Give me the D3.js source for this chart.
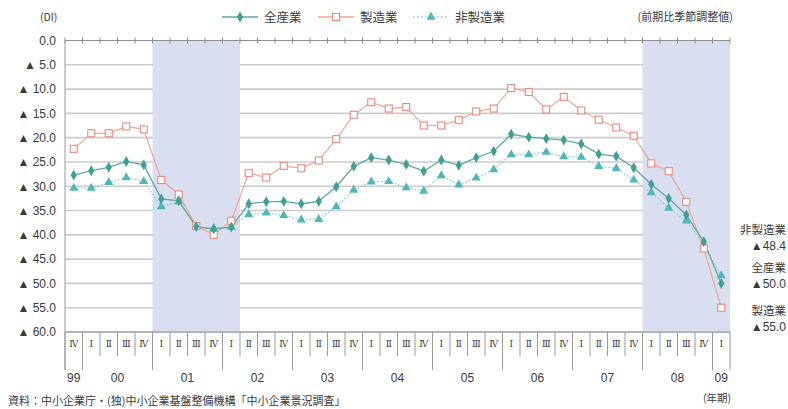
<!DOCTYPE html>
<html>
<head>
<meta charset="utf-8">
<script src="https://cdn.jsdelivr.net/npm/d3@7"></script>
<style>
  html, body { margin: 0; padding: 0; background: #fff; }
  svg { display: block; font-family: "Noto Sans CJK JP", "Liberation Sans", sans-serif; }
</style>
</head>
<body>
<svg id="chart" width="788" height="409"></svg>
<script>
// Quarter slots: 1999 IV .. 2009 I
const quarters = ["Ⅳ",
  "Ⅰ","Ⅱ","Ⅲ","Ⅳ", "Ⅰ","Ⅱ","Ⅲ","Ⅳ", "Ⅰ","Ⅱ","Ⅲ","Ⅳ",
  "Ⅰ","Ⅱ","Ⅲ","Ⅳ", "Ⅰ","Ⅱ","Ⅲ","Ⅳ", "Ⅰ","Ⅱ","Ⅲ","Ⅳ",
  "Ⅰ","Ⅱ","Ⅲ","Ⅳ", "Ⅰ","Ⅱ","Ⅲ","Ⅳ", "Ⅰ","Ⅱ","Ⅲ","Ⅳ",
  "Ⅰ"];
const years = ["99","00","01","02","03","04","05","06","07","08","09"];
const yearStart = [0, 1, 5, 9, 13, 17, 21, 25, 29, 33, 37];
const yearCount = [1, 4, 4, 4, 4, 4, 4, 4, 4, 4, 1];

// Recession periods as [first slot, slot after last]
const recessions = [[5, 10], [33, 38]];

// DI values (negative = ▲)
const allIndustry = [-27.7,-26.8,-26.1,-24.9,-25.6,-32.6,-33.0,-38.3,-38.8,-38.4,
  -33.6,-33.2,-33.1,-33.6,-33.1,-30.1,-25.9,-24.1,-24.6,-25.5,
  -26.9,-24.6,-25.7,-24.1,-22.8,-19.3,-19.9,-20.2,-20.5,-21.3,
  -23.4,-23.8,-26.2,-29.6,-32.5,-35.9,-41.4,-50.0];
const manufacturing = [-22.3,-19.1,-19.1,-17.7,-18.3,-28.7,-31.7,-38.2,-40.0,-37.1,
  -27.3,-28.2,-25.8,-26.3,-24.7,-20.3,-15.3,-12.7,-14.0,-13.7,
  -17.5,-17.5,-16.4,-14.6,-14.0,-9.8,-10.6,-14.2,-11.6,-14.4,
  -16.3,-17.9,-19.6,-25.3,-26.9,-33.2,-42.8,-55.0];
const nonManufacturing = [-30.4,-30.4,-29.2,-28.2,-29.0,-34.2,-33.2,-38.3,-38.7,-38.4,
  -35.8,-35.5,-36.0,-36.9,-36.8,-34.2,-30.8,-29.1,-29.0,-30.3,
  -31.0,-27.8,-29.7,-28.3,-26.6,-23.5,-23.5,-23.0,-23.9,-24.0,
  -25.9,-26.3,-28.7,-31.3,-34.5,-37.1,-42.0,-48.4];

const yTicks = [0,-5,-10,-15,-20,-25,-30,-35,-40,-45,-50,-55,-60];

const seriesNames = ["全産業", "製造業", "非製造業"];
const endLabels = [
  {name: "非製造業", value: nonManufacturing[nonManufacturing.length - 1]},
  {name: "全産業", value: allIndustry[allIndustry.length - 1]},
  {name: "製造業", value: manufacturing[manufacturing.length - 1]}
];

const fmt = v => v === 0 ? "0.0" : "▲ " + (-v).toFixed(1);
const fmtEnd = v => "▲" + (-v).toFixed(1);

const svg = d3.select("#chart");
const plotL = 65, plotR = 730, plotT = 40.5, plotB = 332;

const x = d3.scaleBand().domain(d3.range(quarters.length)).range([plotL, plotR]).padding(0);
const xc = i => x(i) + x.bandwidth() / 2;
const xe = i => plotL + i * x.step();
const y = d3.scaleLinear().domain([0, -60]).range([plotT, plotB]);

const C_ALL = "#3f9f95", C_ALL_LINE = "#62a8a2";
const C_MFG = "#e9897c", C_MFG_LINE = "#f0a595";
const C_NON = "#4db8b6", C_NON_LINE = "#86cccc";
const SHADE = "#d9def0";
const TEXT = "#3a3a3a";

// horizontal grid
svg.append("g").selectAll("line")
  .data(yTicks.filter(d => d !== 0))
  .join("line")
  .attr("x1", plotL).attr("x2", plotR)
  .attr("y1", d => y(d)).attr("y2", d => y(d))
  .attr("stroke", "#cccccc").attr("stroke-width", 1.6);

// recession shading
svg.append("g").selectAll("rect")
  .data(recessions)
  .join("rect")
  .attr("x", d => xe(d[0])).attr("width", d => xe(d[1]) - xe(d[0]))
  .attr("y", plotT).attr("height", plotB - plotT)
  .attr("fill", SHADE);

// y axis labels
svg.append("g").selectAll("text")
  .data(yTicks)
  .join("text")
  .attr("x", 56).attr("y", d => y(d))
  .attr("dy", "0.36em")
  .attr("text-anchor", "end")
  .attr("font-family", "Liberation Sans, Arial, sans-serif")
  .attr("font-size", 12)
  .attr("fill", TEXT)
  .text(fmt);

// left axis line
svg.append("line")
  .attr("x1", plotL).attr("x2", plotL).attr("y1", plotT).attr("y2", plotB + 38)
  .attr("stroke", "#9a9a9a").attr("stroke-width", 1);

// zero line with quarter ticks
svg.append("line")
  .attr("x1", plotL).attr("x2", plotR).attr("y1", y(0)).attr("y2", y(0))
  .attr("stroke", "#8f8f8f").attr("stroke-width", 1);
svg.append("g").selectAll("line")
  .data(d3.range(quarters.length + 1))
  .join("line")
  .attr("x1", d => xe(d)).attr("x2", d => xe(d))
  .attr("y1", y(0) - 3).attr("y2", y(0) + 3)
  .attr("stroke", "#8f8f8f").attr("stroke-width", 1);

// bottom axis
svg.append("line")
  .attr("x1", plotL).attr("x2", plotR).attr("y1", plotB).attr("y2", plotB)
  .attr("stroke", "#8f8f8f").attr("stroke-width", 1);

// quarter separators (long at year boundaries)
const yearEdges = new Set(yearStart.concat([quarters.length]));
svg.append("g").selectAll("line")
  .data(d3.range(quarters.length + 1))
  .join("line")
  .attr("x1", d => xe(d)).attr("x2", d => xe(d))
  .attr("y1", plotB).attr("y2", d => yearEdges.has(d) ? plotB + 38 : plotB + 24)
  .attr("stroke", "#9a9a9a").attr("stroke-width", 1);

// quarter labels
svg.append("g").selectAll("text")
  .data(quarters)
  .join("text")
  .attr("x", (d, i) => xc(i)).attr("y", plotB + 12)
  .attr("dy", "0.36em")
  .attr("text-anchor", "middle")
  .attr("font-family", "DejaVu Serif, serif")
  .attr("font-size", 9)
  .attr("fill", TEXT)
  .text(d => d);

// year labels
svg.append("g").selectAll("text")
  .data(years)
  .join("text")
  .attr("x", (d, i) => plotL + (yearStart[i] + yearCount[i] / 2) * x.step())
  .attr("y", plotB + 46)
  .attr("dy", "0.36em")
  .attr("text-anchor", "middle")
  .attr("font-family", "Liberation Sans, Arial, sans-serif")
  .attr("font-size", 12)
  .attr("fill", TEXT)
  .text(d => d);

// series lines
const line = d3.line().x((d, i) => xc(i)).y(d => y(d));

svg.append("path").datum(nonManufacturing)
  .attr("d", line).attr("fill", "none")
  .attr("stroke", C_NON_LINE).attr("stroke-width", 1.3)
  .attr("stroke-dasharray", "1.5,2");
svg.append("path").datum(manufacturing)
  .attr("d", line).attr("fill", "none")
  .attr("stroke", C_MFG_LINE).attr("stroke-width", 1.2);
svg.append("path").datum(allIndustry)
  .attr("d", line).attr("fill", "none")
  .attr("stroke", C_ALL_LINE).attr("stroke-width", 1.3);

// markers
const tri = d3.symbol().type(d3.symbolTriangle).size(36);
const dia = d3.symbol().type(d3.symbolDiamond).size(34);

svg.append("g").selectAll("path")
  .data(nonManufacturing)
  .join("path")
  .attr("d", tri)
  .attr("transform", (d, i) => `translate(${xc(i)},${y(d)})`)
  .attr("fill", C_NON);

svg.append("g").selectAll("rect")
  .data(manufacturing)
  .join("rect")
  .attr("x", (d, i) => xc(i) - 3.5).attr("y", d => y(d) - 3.5)
  .attr("width", 7).attr("height", 7)
  .attr("fill", "#fff").attr("stroke", C_MFG).attr("stroke-width", 1.1);

svg.append("g").selectAll("path")
  .data(allIndustry)
  .join("path")
  .attr("d", dia)
  .attr("transform", (d, i) => `translate(${xc(i)},${y(d)})`)
  .attr("fill", C_ALL);

// legend
const lg = svg.append("g").attr("font-size", 12.5).attr("fill", TEXT);
const legendItems = [
  {x: 222, color: C_ALL_LINE, dash: null, marker: "diamond"},
  {x: 318, color: C_MFG_LINE, dash: null, marker: "square"},
  {x: 413, color: C_NON_LINE, dash: "1.5,2.5", marker: "triangle"}
];
legendItems.forEach((it, k) => {
  const ly = 17;
  lg.append("line").attr("x1", it.x).attr("x2", it.x + 36)
    .attr("y1", ly).attr("y2", ly)
    .attr("stroke", it.color).attr("stroke-width", 1.3)
    .attr("stroke-dasharray", it.dash);
  const mx = it.x + 18;
  if (it.marker === "diamond") {
    lg.append("path").attr("d", dia).attr("transform", `translate(${mx},${ly})`).attr("fill", C_ALL);
  } else if (it.marker === "square") {
    lg.append("rect").attr("x", mx - 3.5).attr("y", ly - 3.5).attr("width", 7).attr("height", 7)
      .attr("fill", "#fff").attr("stroke", C_MFG).attr("stroke-width", 1.1);
  } else {
    lg.append("path").attr("d", tri).attr("transform", `translate(${mx},${ly})`).attr("fill", C_NON);
  }
  lg.append("text").attr("x", it.x + 42).attr("y", ly).attr("dy", "0.36em")
    .text(seriesNames[k]);
});

// unit notes
svg.append("text").attr("x", 40).attr("y", 17).attr("dy", "0.36em")
  .attr("font-size", 10.5).attr("fill", TEXT).text("(DI)");
svg.append("text").attr("x", 733).attr("y", 17).attr("dy", "0.36em")
  .attr("text-anchor", "end").attr("font-size", 11).attr("fill", TEXT)
  .text("(前期比季節調整値)");
svg.append("text").attr("x", 731).attr("y", 398).attr("dy", "0.36em")
  .attr("text-anchor", "end").attr("font-size", 10.5).attr("fill", TEXT)
  .text("(年期)");

// end-of-series labels
const endY = [230, 268, 311];
const eg = svg.append("g").attr("font-size", 11.5).attr("fill", TEXT).attr("text-anchor", "end");
endLabels.forEach((d, k) => {
  eg.append("text").attr("x", 786).attr("y", endY[k]).attr("dy", "0.36em").text(d.name);
  eg.append("text").attr("x", 786).attr("y", endY[k] + 16).attr("dy", "0.36em")
    .attr("font-family", "Liberation Sans, Arial, sans-serif").attr("font-size", 12)
    .text(fmtEnd(d.value));
});

// source line
svg.append("text").attr("x", 8).attr("y", 405)
  .attr("font-size", 11).attr("fill", TEXT)
  .text("資料：中小企業庁・(独)中小企業基盤整備機構「中小企業景況調査」");
</script>
</body>
</html>
